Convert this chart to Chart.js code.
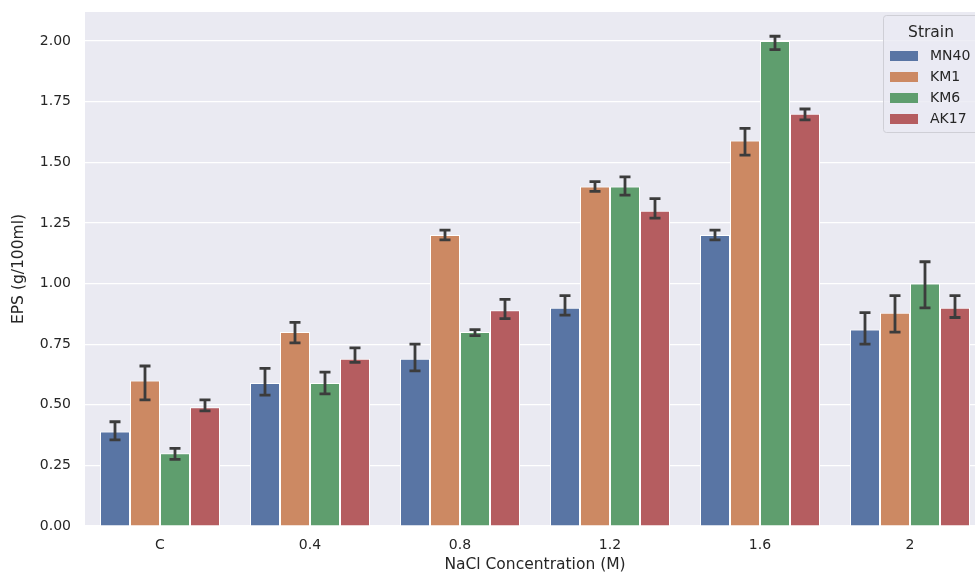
<!DOCTYPE html>
<html>
<head>
<meta charset="utf-8">
<script src="https://cdn.jsdelivr.net/npm/chart.js@4.4.1/dist/chart.umd.min.js"></script>
<style>
  html, body { margin: 0; padding: 0; background: #fff; overflow: hidden; }
  #wrap { width: 990px; height: 574px; }
</style>
</head>
<body>
<div id="wrap"><canvas id="epsChart" width="990" height="574"></canvas></div>
<script>
// EPS production per strain at each NaCl concentration (seaborn-style barplot)

const categories = ['C', '0.4', '0.8', '1.2', '1.6', '2'];
const strains = ['MN40', 'KM1', 'KM6', 'AK17'];

const mn40 = [0.39, 0.59, 0.69, 0.90, 1.20, 0.81];
const km1  = [0.60, 0.80, 1.20, 1.40, 1.59, 0.88];
const km6  = [0.30, 0.59, 0.80, 1.40, 2.00, 1.00];
const ak17 = [0.49, 0.69, 0.89, 1.30, 1.70, 0.90];

// error bar ends (low / high)
const mn40Lo = [0.355, 0.54, 0.64, 0.87, 1.18, 0.75];
const mn40Hi = [0.43, 0.65, 0.75, 0.95, 1.22, 0.88];
const km1Lo  = [0.52, 0.755, 1.18, 1.38, 1.53, 0.80];
const km1Hi  = [0.66, 0.84, 1.22, 1.42, 1.64, 0.95];
const km6Lo  = [0.275, 0.545, 0.785, 1.365, 1.965, 0.90];
const km6Hi  = [0.32, 0.635, 0.81, 1.44, 2.02, 1.09];
const ak17Lo = [0.475, 0.675, 0.855, 1.27, 1.675, 0.86];
const ak17Hi = [0.52, 0.735, 0.935, 1.35, 1.72, 0.95];

const yTicks = [0, 0.25, 0.5, 0.75, 1.0, 1.25, 1.5, 1.75, 2.0];

const colors = ['#5975a4', '#cc8963', '#5f9e6e', '#b55d60'];
const values = [mn40, km1, km6, ak17];
const lows = [mn40Lo, km1Lo, km6Lo, ak17Lo];
const highs = [mn40Hi, km1Hi, km6Hi, ak17Hi];

const FONT = 'DejaVu Sans';
const TEXT = '#262626';

const bgPlugin = {
  id: 'plotBg',
  beforeDraw(chart) {
    const { ctx, chartArea: a } = chart;
    ctx.save();
    ctx.fillStyle = '#eaeaf2';
    ctx.fillRect(a.left, a.top, a.right - a.left, a.bottom - a.top);
    ctx.restore();
  }
};

const errorBars = {
  id: 'errorBars',
  afterDatasetsDraw(chart) {
    const { ctx } = chart;
    const y = chart.scales.y;
    ctx.save();
    ctx.strokeStyle = '#3c3c3c';
    ctx.lineWidth = 2.8;
    ctx.lineCap = 'butt';
    chart.data.datasets.forEach((ds, di) => {
      const meta = chart.getDatasetMeta(di);
      meta.data.forEach((bar, i) => {
        const yl = y.getPixelForValue(ds.lo[i]);
        const yh = y.getPixelForValue(ds.hi[i]);
        const x = bar.x;
        ctx.beginPath();
        ctx.moveTo(x, yl); ctx.lineTo(x, yh);
        ctx.moveTo(x - 5.5, yl); ctx.lineTo(x + 5.5, yl);
        ctx.moveTo(x - 5.5, yh); ctx.lineTo(x + 5.5, yh);
        ctx.stroke();
      });
    });
    ctx.restore();
  }
};

const legendBox = {
  id: 'legendBox',
  afterDraw(chart) {
    const { ctx } = chart;
    const x0 = 883, y0 = 15, w = 96, h = 117;
    ctx.save();
    ctx.fillStyle = 'rgba(234,234,242,0.8)';
    ctx.strokeStyle = '#cfcfd6';
    ctx.lineWidth = 1;
    ctx.beginPath();
    ctx.roundRect(x0 + 0.5, y0 + 0.5, w, h, 3);
    ctx.fill();
    ctx.stroke();
    ctx.fillStyle = TEXT;
    ctx.textBaseline = 'middle';
    ctx.textAlign = 'center';
    ctx.font = '15.5px ' + FONT;
    ctx.fillText('Strain', 931, 33);
    ctx.textAlign = 'left';
    ctx.font = '14px ' + FONT;
    chart.data.datasets.forEach((ds, i) => {
      const cy = 56 + i * 21;
      ctx.fillStyle = ds.backgroundColor;
      ctx.fillRect(890, cy - 5, 28, 10);
      ctx.fillStyle = TEXT;
      ctx.fillText(ds.label, 930, cy);
    });
    ctx.restore();
  }
};

const ctx = document.getElementById('epsChart').getContext('2d');
new Chart(ctx, {
  type: 'bar',
  data: {
    labels: categories,
    datasets: strains.map((s, i) => ({
      label: s,
      data: values[i],
      lo: lows[i],
      hi: highs[i],
      backgroundColor: colors[i],
      borderColor: '#ffffff',
      borderWidth: 1,
      categoryPercentage: 0.8,
      barPercentage: 1.0
    }))
  },
  options: {
    responsive: false,
    animation: false,
    layout: { padding: { top: 12, right: 5, left: 0, bottom: 0 } },
    plugins: {
      legend: { display: false },
      tooltip: { enabled: false }
    },
    scales: {
      x: {
        grid: { display: false },
        border: { display: false },
        ticks: { color: TEXT, font: { family: FONT, size: 14 }, padding: 3 },
        title: {
          display: true,
          text: 'NaCl Concentration (M)',
          color: TEXT,
          font: { family: FONT, size: 15.5 },
          padding: { top: 0, bottom: 0 }
        },
        afterFit(scale) { scale.height = 48; scale.paddingLeft = 0; scale.paddingRight = 0; }
      },
      y: {
        min: 0,
        max: 2.12,
        afterBuildTicks(scale) { scale.ticks = yTicks.map(v => ({ value: v })); },
        grid: { color: '#ffffff', lineWidth: 1.2, drawTicks: false },
        border: { display: false },
        ticks: {
          color: TEXT,
          font: { family: FONT, size: 14 },
          padding: 14,
          callback: v => Number(v).toFixed(2)
        },
        title: {
          display: true,
          text: 'EPS (g/100ml)',
          color: TEXT,
          font: { family: FONT, size: 15.5 },
          padding: { top: 10, bottom: 0 }
        },
        afterFit(scale) { scale.width = 85; scale.paddingTop = 0; scale.paddingBottom = 0; }
      }
    }
  },
  plugins: [bgPlugin, errorBars, legendBox]
});
</script>
</body>
</html>
